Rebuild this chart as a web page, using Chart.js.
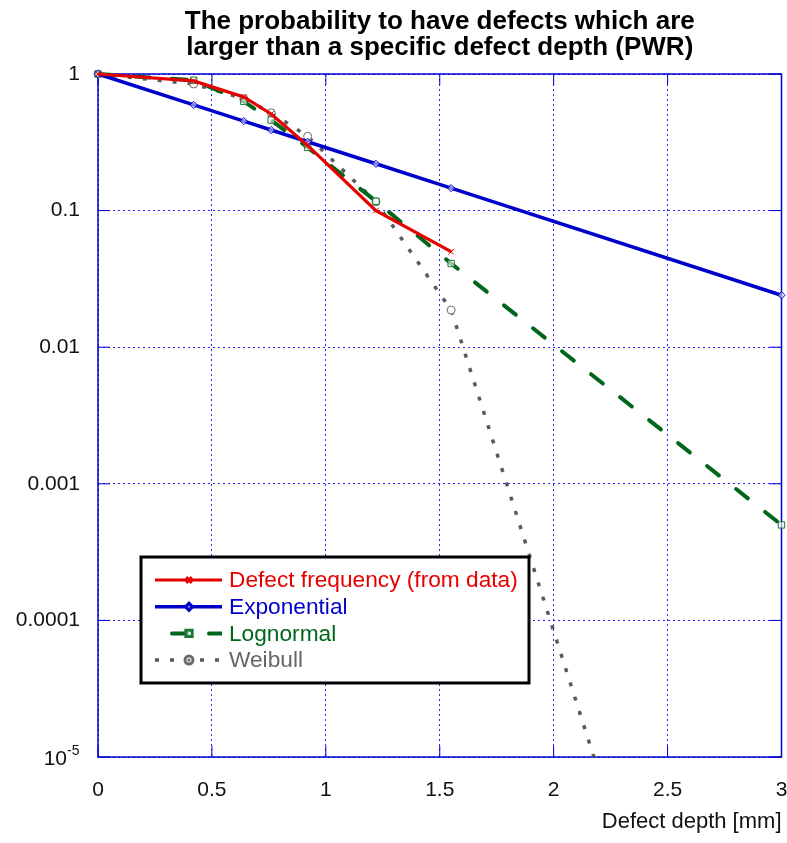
<!DOCTYPE html>
<html>
<head>
<meta charset="utf-8">
<script src="https://cdn.jsdelivr.net/npm/chart.js@4.4.1/dist/chart.umd.min.js"></script>
<style>
  html, body { margin: 0; padding: 0; background: #fff; }
  #wrap { width: 787px; height: 843px; }
</style>
</head>
<body>
<div id="wrap"><canvas id="chart-defects"></canvas></div>
<script>
// depths (mm) where the curves are evaluated
const depths = [0, 0.42, 0.64, 0.76, 0.92, 1.22, 1.55, 3];

// probability that a defect is larger than the given depth
const defectFreq  = [1, 0.89, 0.68, 0.51, 0.30, 0.10, 0.05];   // data stops at 1.55 mm
const exponential = [1, 0.594, 0.452, 0.389, 0.319, 0.220, 0.146, 0.024];
const lognormal   = [1, 0.90, 0.63, 0.46, 0.29, 0.117, 0.041, 0.0005];
const weibull     = [1, 0.845, 0.66, 0.52, 0.35, 0.116, 0.0187, 5e-10];

const xTicks = [0, 0.5, 1, 1.5, 2, 2.5, 3];
const yTicks = [1e-5, 1e-4, 1e-3, 1e-2, 0.1, 1];
// the 1e-5 label is drawn as "10" with a superscript "-5" (see framePlugin)
const yTickLabels = ['', '0.0001', '0.001', '0.01', '0.1', '1'];
const yPowerLabel = { base: '10', exp: '-5' };

const FONT = 'Arial, "Liberation Sans", Helvetica, sans-serif';
const GRID_BLUE = 'rgba(0, 0, 255, 0.85)';
const AXIS_BLUE = '#0000d0';

const pts = (ys) => ys.map((y, i) => ({ x: depths[i], y }));
const clip = { left: 8, top: 8, right: 8, bottom: 0 };

/*
  ============ frame + inward tick marks ============
*/
const framePlugin = {
  id: 'frame',
  beforeDatasetsDraw(chart) {
    const { ctx, chartArea: a, scales: { x, y } } = chart;
    ctx.save();
    ctx.strokeStyle = AXIS_BLUE;
    ctx.lineWidth = 1.5;
    ctx.strokeRect(a.left, a.top, a.right - a.left, a.bottom - a.top);
    ctx.lineWidth = 1;
    ctx.beginPath();
    xTicks.forEach(v => {
      const px = x.getPixelForValue(v);
      ctx.moveTo(px, a.bottom); ctx.lineTo(px, a.bottom - 11);
      ctx.moveTo(px, a.top); ctx.lineTo(px, a.top + 11);
    });
    yTicks.forEach(v => {
      const py = y.getPixelForValue(v);
      ctx.moveTo(a.left, py); ctx.lineTo(a.left + 12, py);
      ctx.moveTo(a.right, py); ctx.lineTo(a.right - 12, py);
    });
    ctx.stroke();

    // 10^-5 label
    const py = y.getPixelForValue(yTicks[0]);
    ctx.fillStyle = '#111';
    ctx.textBaseline = 'middle';
    ctx.textAlign = 'right';
    ctx.font = '21px ' + FONT;
    ctx.fillText(yPowerLabel.base, 67, py + 2);
    ctx.textAlign = 'left';
    ctx.font = '14px ' + FONT;
    ctx.fillText(yPowerLabel.exp, 67, py - 6);
    ctx.restore();
  }
};

/*
  ============ boxed legend inside the plot ============
*/
const legendPlugin = {
  id: 'boxLegend',
  afterDatasetsDraw(chart) {
    const ctx = chart.ctx;
    const box = { left: 141, top: 557, width: 388, height: 126 };
    ctx.save();
    ctx.fillStyle = '#fff';
    ctx.fillRect(box.left, box.top, box.width, box.height);
    ctx.strokeStyle = '#000';
    ctx.lineWidth = 3;
    ctx.strokeRect(box.left, box.top, box.width, box.height);

    chart.data.datasets.forEach((ds, i) => {
      const cy = 580 + i * 26.7;
      ctx.save();
      ctx.beginPath();
      ctx.rect(155, cy - 5, 67, 10);
      ctx.clip();
      ctx.strokeStyle = ds.borderColor;
      ctx.lineWidth = ds.borderWidth;
      ctx.lineCap = ds.borderCapStyle || 'butt';
      ctx.setLineDash(ds.borderDash || []);
      ctx.lineDashOffset = ds.legendDashOffset || 0;
      ctx.beginPath();
      ctx.moveTo(155, cy);
      ctx.lineTo(222, cy);
      ctx.stroke();
      ctx.restore();

      ctx.setLineDash([]);
      ctx.fillStyle = ds.pointBackgroundColor || '#fff';
      ctx.strokeStyle = ds.pointBorderColor || ds.borderColor;
      Chart.helpers.drawPoint(ctx, {
        pointStyle: ds.pointStyle, radius: ds.pointRadius, borderWidth: 1, rotation: 0
      }, 189, cy);
      if (ds.pointStyle === 'circle') {
        ctx.fillStyle = ds.pointBorderColor;
        ctx.beginPath(); ctx.arc(189, cy, 1.6, 0, Math.PI * 2); ctx.fill();
      }

      ctx.fillStyle = ds.legendColor || ds.borderColor;
      ctx.font = '22.7px ' + FONT;
      ctx.textBaseline = 'middle';
      ctx.textAlign = 'left';
      ctx.fillText(ds.label, 229, cy + 1);
    });
    ctx.restore();
  }
};

/** @type {CanvasRenderingContext2D} */
const ctxDefects = document.getElementById('chart-defects').getContext('2d');

const chart = new Chart(ctxDefects, {
  type: 'line',
  data: {
    datasets: [
      {
        label: 'Defect frequency (from data)',
        data: pts(defectFreq),
        borderColor: '#e60000',
        borderWidth: 3.2,
        pointStyle: 'crossRot',
        pointRadius: 4,
        pointBorderWidth: 1,
        pointBorderColor: '#e60000',
        pointBackgroundColor: '#e60000',
        clip
      },
      {
        label: 'Exponential',
        data: pts(exponential),
        borderColor: '#0000cc',
        borderWidth: 3.6,
        pointStyle: 'rectRot',
        pointRadius: 3.6,
        pointBorderWidth: 1,
        pointBorderColor: '#0000cc',
        pointBackgroundColor: 'rgba(255,255,255,0.5)',
        clip
      },
      {
        label: 'Lognormal',
        data: pts(lognormal),
        borderColor: '#00661a',
        borderWidth: 4,
        borderDash: [15, 22],
        borderCapStyle: 'round',
        legendDashOffset: 20,
        pointStyle: 'rect',
        pointRadius: 4.5,
        pointBorderWidth: 1,
        pointBorderColor: '#1d7a35',
        pointBackgroundColor: 'rgba(255,255,255,0.6)',
        clip
      },
      {
        label: 'Weibull',
        data: pts(weibull),
        borderColor: '#5a5a5a',
        legendColor: '#666666',
        borderWidth: 3.5,
        borderDash: [4, 11],
        pointStyle: 'circle',
        pointRadius: 4,
        pointBorderWidth: 1,
        pointBorderColor: '#6a6a6a',
        pointBackgroundColor: '#ffffff',
        clip
      }
    ]
  },
  options: {
    responsive: true,
    maintainAspectRatio: false,
    animation: false,
    layout: { padding: { left: 0, right: 5, top: 0, bottom: 0 } },
    plugins: {
      legend: { display: false },
      tooltip: { enabled: false },
      title: {
        display: true,
        fullSize: false,
        text: ['The probability to have defects which are',
               'larger than a specific defect depth (PWR)'],
        color: '#000',
        font: { family: FONT, size: 26, weight: 'bold', lineHeight: '26px' },
        padding: { top: 9, bottom: 13 }
      }
    },
    scales: {
      x: {
        type: 'linear',
        min: 0,
        max: 3,
        afterBuildTicks: s => { s.ticks = xTicks.map(value => ({ value })); },
        afterFit: s => { s.height = 86; s.paddingLeft = 0; s.paddingRight = 0; },
        ticks: {
          color: '#111',
          font: { family: FONT, size: 21 },
          padding: 21,
          maxRotation: 0,
          callback: (v) => String(v)
        },
        grid: { color: GRID_BLUE, lineWidth: 1, drawTicks: false },
        border: { display: false, dash: [2, 3] },
        title: {
          display: true,
          text: 'Defect depth [mm]',
          align: 'end',
          color: '#111',
          font: { family: FONT, size: 22 },
          padding: { top: 0, bottom: 8 }
        }
      },
      y: {
        type: 'logarithmic',
        min: 1e-5,
        max: 1,
        afterBuildTicks: s => { s.ticks = yTicks.map(value => ({ value })); },
        afterFit: s => { s.width = 98; s.paddingTop = 0; s.paddingBottom = 0; },
        ticks: {
          color: '#111',
          font: { family: FONT, size: 21 },
          padding: 18,
          callback: (v) => yTickLabels[yTicks.indexOf(v)] ?? ''
        },
        grid: { color: GRID_BLUE, lineWidth: 1, drawTicks: false },
        border: { display: false, dash: [2, 3] }
      }
    }
  },
  plugins: [framePlugin, legendPlugin]
});
</script>
</body>
</html>
